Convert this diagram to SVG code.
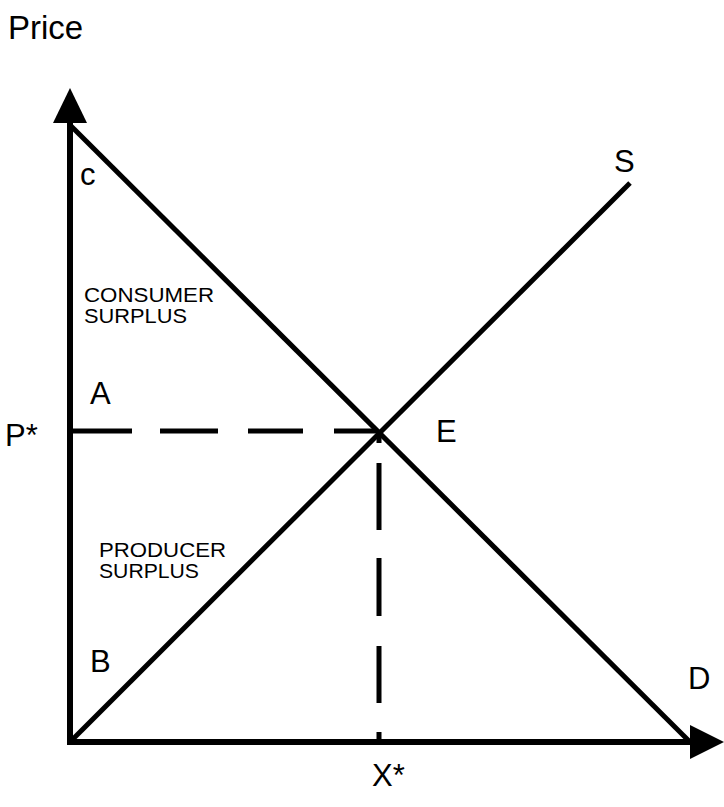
<svg xmlns="http://www.w3.org/2000/svg" width="724" height="807" viewBox="0 0 724 807">
<style>
text{font-family:"Liberation Sans",Arial,sans-serif;fill:#000}
.big{font-size:31px}
.small{font-size:20px}
.ln{stroke:#000;stroke-width:5;fill:none}
.ax{stroke:#000;stroke-width:6;fill:none}
</style>
<rect width="724" height="807" fill="#fff"/>
<g id="axes">
<path class="ax" d="M70,742 V120"/>
<path d="M53,123 L70,88 L87,123 Z" fill="#000"/>
<path class="ax" d="M67,742 H692"/>
<path d="M690,725 L724,742 L690,759 Z" fill="#000"/>
</g>
<g id="connectors">
<path id="demand" class="ln" d="M70,125 L690,742"/>
<path id="supply" class="ln" d="M70,742 L630,183"/>
<path id="p-star-line" class="ln" d="M73,431 H132 M160,431 H218 M248,431 H303 M334,431 H378"/>
<path id="x-star-line" class="ln" d="M379,432 V443 M379,463 V530 M379,558 V616 M379,646 V703 M379,732 V742"/>
</g>
<g id="labels">
<text x="8" y="39" class="big" style="font-size:33px">Price</text>
<text x="80" y="185" class="big">c</text>
<text x="614" y="172" class="big">S</text>
<text x="84" y="302" class="small" textLength="130" lengthAdjust="spacingAndGlyphs">CONSUMER</text>
<text x="84" y="323" class="small" textLength="103" lengthAdjust="spacingAndGlyphs">SURPLUS</text>
<text x="99" y="557" class="small" textLength="127" lengthAdjust="spacingAndGlyphs">PRODUCER</text>
<text x="99" y="578" class="small" textLength="100" lengthAdjust="spacingAndGlyphs">SURPLUS</text>
<text x="90" y="404" class="big">A</text>
<text x="5" y="446" class="big">P*</text>
<text x="436" y="442" class="big">E</text>
<text x="90" y="672" class="big">B</text>
<text x="688" y="689" class="big">D</text>
<text x="372" y="786" class="big">X*</text>
</g>
</svg>
